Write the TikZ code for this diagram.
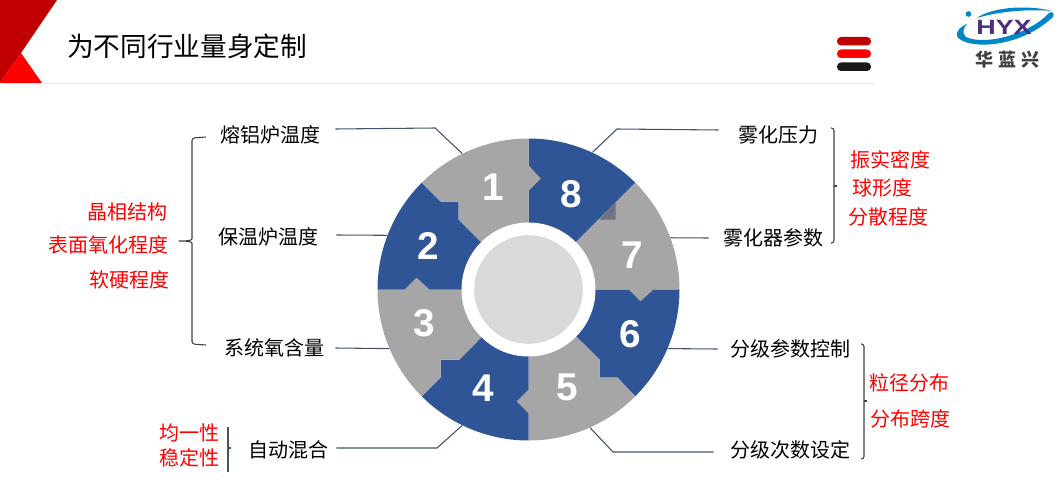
\documentclass[tikz,border=0pt]{standalone}
\usepackage{fontspec}
\newfontfamily\cjk{Noto Sans CJK SC}
\newfontfamily\numfont{Liberation Sans}
\usetikzlibrary{calc}
\definecolor{wheelblue}{RGB}{47,85,151}
\definecolor{wheelgrey}{RGB}{166,166,166}
\definecolor{hubgrey}{RGB}{217,217,217}
\definecolor{leadcolor}{RGB}{68,84,106}
\definecolor{barcolor}{RGB}{64,64,64}
\definecolor{darkred}{RGB}{192,0,0}
\definecolor{logoblue}{RGB}{0,135,200}
\definecolor{logopurple}{RGB}{75,45,130}
\tikzset{
  blackcap/.style={inner sep=0.75pt,font=\cjk\fontsize{15}{18}\selectfont,text=black},
  redcap/.style={inner sep=0.75pt,font=\cjk\fontsize{15}{18}\selectfont,text=red},
  numcap/.style={inner sep=0.75pt,font=\numfont\bfseries\fontsize{29}{34}\selectfont,text=white},
  blueseg/.style={fill=wheelblue},
  greyseg/.style={fill=wheelgrey},
  leadline/.style={draw=leadcolor,line width=0.8pt},
  barline/.style={draw=barcolor,line width=0.8pt,rounded corners=2pt},
  menubar/.style={rounded corners=3pt}
}
\begin{document}
\begin{tikzpicture}[x=0.75pt,y=0.75pt,yscale=-1,xscale=1]
\useasboundingbox (0,0) rectangle (1061,492);
\fill [white] (0,0) rectangle (1061,492);

%Shape: Corner
\fill [darkred] (0,0) -- (57,0) -- (21,53) -- (0,83) -- cycle;
\fill [red] (0,83) -- (21,53) -- (42,83) -- cycle;
%Shape: Header line
\draw [color={rgb, 255:red, 235; green, 235; blue, 235 }] (0,83) -- (875,83);
%Shape: Menu bars
\fill [darkred,menubar] (837,37) rectangle (871,45.5);
\fill [red,menubar] (837,49.5) rectangle (871,58);
\fill [black!90,menubar] (837,62.5) rectangle (871,71);

%Shape: Logo
\fill [logoblue] (957,36) .. controls (962,48) and (1015,52) .. (1053,17) .. controls (1055,13) and (1052,11) .. (1049,13) .. controls (1030,34) and (985,46) .. (966,37) .. controls (961,33) and (964,27) .. (967,24) .. controls (960,27) and (956,31) .. (957,36) -- cycle;
\fill [logoblue] (977,18) .. controls (990,8) and (1025,4) .. (1052,11) .. controls (1030,9) and (1000,11) .. (977,18) -- cycle;
\fill [logoblue] (968.5,14) circle [radius=2.8];
\node (hyx) [inner sep=0pt,text=logopurple,font=\numfont\bfseries\fontsize{15.5}{18}\selectfont,xscale=1.3] at (1004,27) {HYX};
\node (hlx) [inner sep=0pt,text=black!75,font=\cjk\bfseries\fontsize{13.5}{16}\selectfont] at (1007.5,60) {华\hspace{4pt}蓝\hspace{4pt}兴};

%Shape: Wheel
\begin{scope}[shift={(528.5,289.5)}]
\fill [blueseg] (-90:151) arc [start angle=-90,end angle=-45,radius=151] -- (0,0) -- (0,-99) -- (12,-111) -- (0,-124) -- cycle;
\fill [greyseg] (-45:151) arc [start angle=-45,end angle=0,radius=151] -- (125,0) -- (112,12) -- (100,0) -- (0,0) -- cycle;
\fill [blueseg] (0:151) arc [start angle=0,end angle=45,radius=151] -- (89,88) -- (71,88) -- (71,70) -- (0,0) -- (100,0) -- (112,12) -- (125,0) -- cycle;
\fill [greyseg] (45:151) arc [start angle=45,end angle=90,radius=151] -- (0,124) -- (-12,112) -- (0,100) -- (0,0) -- (71,70) -- (71,88) -- (89,88) -- cycle;
\fill [blueseg] (90:151) arc [start angle=90,end angle=135,radius=151] -- (-88,88) -- (-88,70) -- (-69,70) -- (0,0) -- (0,100) -- (-12,112) -- (0,124) -- cycle;
\fill [greyseg] (135:151) arc [start angle=135,end angle=180,radius=151] -- (-124,0) -- (-112,-12) -- (-99,0) -- (0,0) -- (-69,70) -- (-88,70) -- (-88,88) -- cycle;
\fill [blueseg] (180:151) arc [start angle=180,end angle=225,radius=151] -- (-88,-88) -- (-70,-88) -- (-70,-70) -- (0,0) -- (-99,0) -- (-112,-12) -- (-124,0) -- cycle;
\fill [greyseg] (225:151) arc [start angle=225,end angle=270,radius=151] -- (0,-124) -- (12,-111) -- (0,-99) -- (0,0) -- (-70,-70) -- (-70,-88) -- (-88,-88) -- cycle;
\fill [color={rgb, 255:red, 111; green, 114; blue, 128 }] (87,-88) -- (87,-70) -- (71,-70) -- cycle;
\end{scope}
\node (wheel) [circle,inner sep=0pt,minimum size=226.5pt] at (528.5,289.5) {};
\node (hub) [circle,inner sep=0pt,minimum size=100.5pt,fill=white] at (528.5,289.5) {};
\node (core) [circle,inner sep=0pt,minimum size=81.5pt,fill=hubgrey] at (528.5,289.5) {};

% Numbers
\foreach \n/\x/\y in {1/493/187,2/428/246,3/424/323,4/483/388,5/567/387,6/630/334,7/632/255,8/571/194}
  \node (num\n) [numcap] at (\x,\y) {\n};

% Text Node
\node (title) [inner sep=0.75pt,font=\cjk\fontsize{20}{24}\selectfont] at (187,46) {为不同行业量身定制};
% Text Node
\node (melt) [blackcap] at (270,135) {熔铝炉温度};
\node (hold) [blackcap] at (268,237) {保温炉温度};
\node (oxy) [blackcap] at (274,348) {系统氧含量};
\node (mix) [blackcap] at (288,450) {自动混合};
\node (press) [blackcap] at (778,135) {雾化压力};
\node (atom) [blackcap] at (773,238) {雾化器参数};
\node (grade) [blackcap] at (790,349) {分级参数控制};
\node (times) [blackcap] at (790,450) {分级次数设定};
% Text Node
\node (crys) [redcap] at (127,212) {晶相结构};
\node (surf) [redcap] at (108,245) {表面氧化程度};
\node (hard) [redcap] at (129,280) {软硬程度};
\node (even) [redcap] at (189,433) {均一性};
\node (stab) [redcap] at (189,458) {稳定性};
\node (tap) [redcap] at (890,160) {振实密度};
\node (sph) [redcap] at (882,188) {球形度};
\node (disp) [redcap] at (888,217) {分散程度};
\node (size) [redcap] at (909,383) {粒径分布};
\node (span) [redcap] at (910,419) {分布跨度};

% Leaders
\coordinate (bend1) at (435,128);
\coordinate (bend4) at (437,448);
\coordinate (bend8) at (617,129);
\coordinate (bend5) at (613,452);
\draw [leadline] ($(melt.east)+(14,-6)$) -- (bend1) -- (wheel.116);
\draw [leadline] ($(hold.east)+(17,-2)$) -- (wheel.159);
\draw [leadline] ($(oxy.east)+(10,0)$) -- (wheel.203);
\draw [leadline] ($(mix.east)+(7,-2)$) -- (bend4) -- (wheel.244);
\draw [leadline] ($(press.west)+(-18,-5)$) -- (bend8) -- (wheel.65);
\draw [leadline] ($(atom.west)+(-13,0)$) -- (wheel.20);
\draw [leadline] ($(grade.west)+(-11,0)$) -- (wheel.-23);
\draw [leadline] ($(times.west)+(-15,2)$) -- (bend5) -- (wheel.-66);

%Shape: Brace
\draw [barline] (206,137) -- (192,138) -- (192,236) .. controls (192,240) and (190,241) .. (177,241) .. controls (190,241) and (192,242) .. (192,246) -- (192,344) -- (206,345);
%Shape: Bracket
\draw [barline] (831,128) -- (834,128) -- (834,243) -- (831,243);
\draw [draw=barcolor,line width=0.8pt] (834,186) -- (837,186);
\draw [barline] (861,344) -- (864,344) -- (864,459) -- (861,459);
\draw [draw=barcolor,line width=0.8pt] (864,401) -- (867,401);
\draw [draw=leadcolor,line width=1pt] (228,427) -- (228,472);
\draw [draw=leadcolor,line width=0.8pt] (228,448) -- (231,448);
\end{tikzpicture}
\end{document}
